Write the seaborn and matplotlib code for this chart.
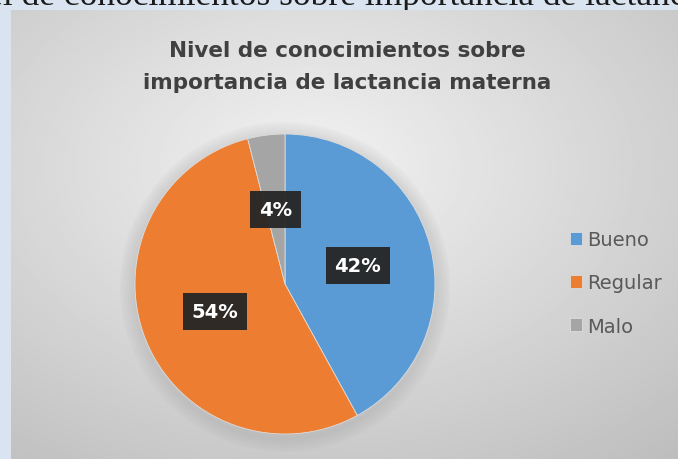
import numpy as np
import matplotlib
matplotlib.use("Agg")
import matplotlib.pyplot as plt
import seaborn as sns

categories = ["Bueno", "Regular", "Malo"]
values = [42, 54, 4]
title = "Nivel de conocimientos sobre\nimportancia de lactancia materna"
top_caption = "Nivel de conocimientos sobre importancia de lactancia materna"

sns.set_theme(style="white")
plt.rcParams['font.family'] = ['DejaVu Sans']

colors = ["#5b9bd5", "#ed7d31", "#a5a5a5"]

W, H = 678, 460
fig = plt.figure(figsize=(W / 100, H / 100), dpi=100)
fig.patch.set_facecolor("#dae4f0")

# cropped caption of the document behind
cap = fig.text(-66 / W, 1 - 5 / H, top_caption, family="Liberation Serif", fontsize=25.5,
               color="#1a1a1a", ha="left", va="baseline", zorder=-5)

# chart panel with gradient
bg = fig.add_axes([11 / W, 0, 1 - 11 / W, 1 - 11 / H])
bg.set_zorder(1)
yy, xx = np.mgrid[0:1:300j, 0:1:400j]
d = np.sqrt(((xx - 0.45) / 0.9) ** 2 + ((yy - 0.35) / 0.9) ** 2)
grad = 0.95 - 0.22 * np.clip(d, 0, 1.2)
bg.imshow(grad, cmap="gray", vmin=0, vmax=1, aspect="auto", extent=[0, 1, 1, 0],
          interpolation="bilinear")
bg.set_axis_off()

# pie
cx, cy, r = 285, 285, 150
ax = fig.add_axes([(cx - r) / W, (H - cy - r) / H, 2 * r / W, 2 * r / H])
ax.set_zorder(2)
# soft shadow
for k in range(8):
    circ = plt.Circle((0.0, -0.02), 1.0 + 0.012 * (8 - k), color="#808080",
                      alpha=0.025, zorder=0, clip_on=False)
    ax.add_patch(circ)
wedges, texts, autotexts = ax.pie(
    values, colors=colors, startangle=90, counterclock=False,
    autopct=lambda p: f"{p:.0f}%", pctdistance=0.5,
    wedgeprops=dict(edgecolor="#dddddd", linewidth=0.6),
    textprops=dict(color="white", fontsize=14, fontweight="bold"))
for t in autotexts:
    t.set_bbox(dict(boxstyle="square,pad=0.45", facecolor="#262626",
                    edgecolor="none", alpha=0.95))
    t.set_zorder(10)
ax.set_xlim(-1, 1)
ax.set_ylim(-1, 1)
ax.set_aspect("auto")
ax.set_axis_off()

fig.text(347 / W, 1 - 67 / H, title, ha="center", va="center", fontsize=15.5,
         fontweight="bold", color="#404040", linespacing=1.75, zorder=5)

leg = fig.legend(wedges, categories, loc="center left",
                 bbox_to_anchor=(552 / W, 1 - 284 / H), frameon=False,
                 fontsize=14, handlelength=0.65, handleheight=0.65,
                 handletextpad=0.25, labelspacing=1.25, labelcolor="#595959")
leg.set_zorder(5)

fig.savefig("out.png", dpi=100, facecolor=fig.get_facecolor())
